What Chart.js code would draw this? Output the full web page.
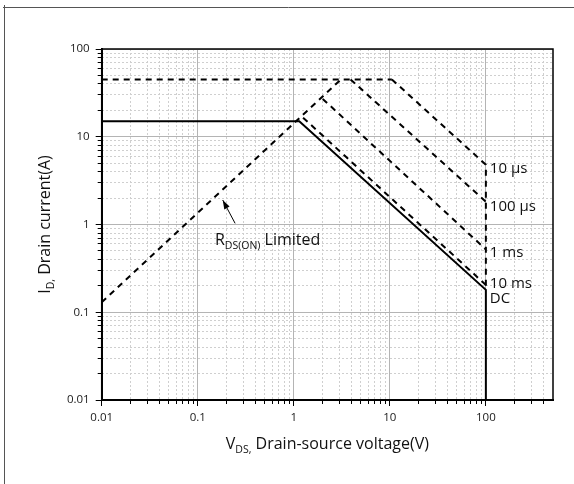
<!DOCTYPE html>
<html>
<head>
<meta charset="utf-8">
<script src="https://cdn.jsdelivr.net/npm/chart.js@4.4.1/dist/chart.umd.min.js"></script>
<style>
  html, body { margin: 0; padding: 0; background: #fff; }
  canvas { display: block; }
</style>
</head>
<body>
<canvas id="soa" width="574" height="484"></canvas>
<script>
// Safe operating area: drain current vs drain-source voltage, log-log
const xTickValues = [0.01, 0.1, 1, 10, 100];
const xTickLabels = ['0.01', '0.1', '1', '10', '100'];
const yTickValues = [0.01, 0.1, 1, 10, 100];
const yTickLabels = ['0.01', '0.1', '1', '10', '100'];

// boundary lines, V in volts and I in amps
const dcV = [0.01, 1.14, 100, 100];
const dcI = [15, 15, 0.18, 0.01];
const pulsedV = [0.01, 10.5];
const pulsedI = [45, 45];
const rdsOnV = [0.01, 3.1];
const rdsOnI = [0.13, 45];
const t10usV = [10.5, 100, 100];
const t10usI = [45, 4.8, 0.2];
const t100usV = [3.9, 100];
const t100usI = [45, 1.82];
const t1msV = [2.0, 100];
const t1msI = [27, 0.52];
const t10msV = [1.25, 100];
const t10msI = [16.5, 0.205];

const curveNames = ['10 µs', '100 µs', '1 ms', '10 ms', 'DC'];
const curveEndI = [4.8, 1.82, 0.52, 0.205, 0.18];

const FONT = '"Open Sans", "DejaVu Sans", sans-serif';

const pts = (xs, ys) => xs.map((x, i) => ({ x: x, y: ys[i] }));

// 2..9 inside every decade, for the dotted grid
function minorTicks(min, max) {
  const out = [];
  for (let d = min; d < max; d *= 10) {
    for (let m = 2; m <= 9; m++) {
      const v = +(m * d).toPrecision(3);
      if (v < max) out.push({ value: v });
    }
  }
  return out;
}

function line(data, dashed) {
  return {
    data: data,
    borderColor: '#000',
    borderWidth: 2,
    borderDash: dashed ? [6, 5] : [],
    pointRadius: 0,
    fill: false,
    tension: 0
  };
}

function richWidth(ctx, parts) {
  let w = 0;
  parts.forEach(p => { ctx.font = p.size + 'px ' + FONT; w += ctx.measureText(p.t).width; });
  return w;
}
function drawRich(ctx, parts, x, y) {
  parts.forEach(p => {
    ctx.font = p.size + 'px ' + FONT;
    ctx.fillText(p.t, x, y + (p.dy || 0));
    x += ctx.measureText(p.t).width;
  });
}

const labelOffsets = [4, 5, 3, -1.5, 9];

const decorations = {
  id: 'decorations',
  afterDraw(chart) {
    const ctx = chart.ctx;
    const a = chart.chartArea;
    const xs = chart.scales.x, ys = chart.scales.y;
    ctx.save();

    // page frame lines
    ctx.strokeStyle = '#555';
    ctx.lineWidth = 1;
    ctx.beginPath();
    ctx.moveTo(3, 7.5); ctx.lineTo(574, 7.5);
    ctx.moveTo(4.5, 5); ctx.lineTo(4.5, 484);
    ctx.stroke();

    // plot box
    ctx.strokeStyle = '#000';
    ctx.lineWidth = 1.5;
    ctx.strokeRect(a.left, a.top, a.right - a.left, a.bottom - a.top);

    ctx.fillStyle = '#111';
    ctx.textBaseline = 'alphabetic';

    // x title
    const xt = [
      { t: 'V', size: 16 },
      { t: 'DS,', size: 10.5, dy: 4 },
      { t: ' Drain-source voltage(V)', size: 16 }
    ];
    drawRich(ctx, xt, (a.left + a.right) / 2 - richWidth(ctx, xt) / 2, 449);

    // y title
    const yt = [
      { t: 'I', size: 16 },
      { t: 'D,', size: 10.5, dy: 4 },
      { t: ' Drain current(A)', size: 16 }
    ];
    ctx.save();
    ctx.translate(50, (a.top + a.bottom) / 2);
    ctx.rotate(-Math.PI / 2);
    drawRich(ctx, yt, -richWidth(ctx, yt) / 2, 0);
    ctx.restore();

    // curve names at V = 100
    ctx.textBaseline = 'middle';
    ctx.font = '15px ' + FONT;
    const lx = xs.getPixelForValue(100) + 4;
    curveNames.forEach((n, i) => {
      ctx.fillText(n, lx, ys.getPixelForValue(curveEndI[i]) + labelOffsets[i]);
    });

    // RDS(ON) note with arrow
    ctx.textBaseline = 'alphabetic';
    const rx = xs.getPixelForValue(0.151), ry = ys.getPixelForValue(0.586);
    drawRich(ctx, [
      { t: 'R', size: 16 },
      { t: 'DS(ON)', size: 10.5, dy: 4 },
      { t: ' Limited', size: 16 }
    ], rx, ry);
    const tx = xs.getPixelForValue(0.245), ty = ys.getPixelForValue(1.03);
    const hx = xs.getPixelForValue(0.182), hy = ys.getPixelForValue(1.9);
    ctx.strokeStyle = '#000';
    ctx.lineWidth = 1;
    ctx.beginPath(); ctx.moveTo(tx, ty); ctx.lineTo(hx, hy); ctx.stroke();
    const ang = Math.atan2(hy - ty, hx - tx);
    ctx.beginPath();
    ctx.moveTo(hx, hy);
    ctx.lineTo(hx - 9 * Math.cos(ang) + 3 * Math.sin(ang), hy - 9 * Math.sin(ang) - 3 * Math.cos(ang));
    ctx.lineTo(hx - 9 * Math.cos(ang) - 3 * Math.sin(ang), hy - 9 * Math.sin(ang) + 3 * Math.cos(ang));
    ctx.closePath();
    ctx.fillStyle = '#000';
    ctx.fill();

    ctx.restore();
  }
};

const tickFont = { family: FONT, size: 11.5 };

new Chart(document.getElementById('soa'), {
  type: 'line',
  data: {
    datasets: [
      line(pts(pulsedV, pulsedI), true),
      line(pts(rdsOnV, rdsOnI), true),
      line(pts(t10usV, t10usI), true),
      line(pts(t100usV, t100usI), true),
      line(pts(t1msV, t1msI), true),
      line(pts(t10msV, t10msI), true),
      line(pts(dcV, dcI), false)
    ]
  },
  options: {
    responsive: false,
    devicePixelRatio: 1,
    animation: false,
    layout: { padding: { top: 49, right: 21, bottom: 0, left: 0 } },
    plugins: { legend: { display: false }, tooltip: { enabled: false } },
    scales: {
      x: {
        type: 'logarithmic', position: 'bottom', weight: 1,
        min: 0.01, max: 500,
        afterBuildTicks: s => { s.ticks = xTickValues.map(v => ({ value: v })); },
        afterFit: s => { s.height = 84; },
        grid: { color: '#b4b4b4', lineWidth: 1, tickColor: '#000', tickLength: 6, tickWidth: 1 },
        border: { color: '#000', width: 2 },
        ticks: { autoSkip: false, maxRotation: 0, padding: 5, color: '#1a1a1a', font: tickFont,
                 callback: (v, i) => xTickLabels[i] }
      },
      xMinor: {
        type: 'logarithmic', position: 'bottom', weight: 0,
        min: 0.01, max: 500,
        afterBuildTicks: s => { s.ticks = minorTicks(0.01, 500); },
        afterFit: s => { s.height = 0; },
        grid: { color: '#cfcfcf', lineWidth: 1, tickColor: '#000', tickLength: 4, tickWidth: 1 },
        border: { display: false, dash: [2, 2] },
        ticks: { display: false }
      },
      y: {
        type: 'logarithmic', position: 'left', weight: 1,
        min: 0.01, max: 100,
        afterBuildTicks: s => { s.ticks = yTickValues.map(v => ({ value: v })); },
        afterFit: s => { s.width = 101.7; },
        grid: { color: '#b4b4b4', lineWidth: 1, tickColor: '#000', tickLength: 6, tickWidth: 1 },
        border: { color: '#000', width: 2 },
        ticks: { autoSkip: false, padding: 6, color: '#1a1a1a', font: tickFont,
                 callback: (v, i) => yTickLabels[i] }
      },
      yMinor: {
        type: 'logarithmic', position: 'left', weight: 0,
        min: 0.01, max: 100,
        afterBuildTicks: s => { s.ticks = minorTicks(0.01, 100); },
        afterFit: s => { s.width = 0; },
        grid: { color: '#cfcfcf', lineWidth: 1, tickColor: '#000', tickLength: 4, tickWidth: 1 },
        border: { display: false, dash: [2, 2] },
        ticks: { display: false }
      }
    }
  },
  plugins: [decorations]
});
</script>
</body>
</html>
